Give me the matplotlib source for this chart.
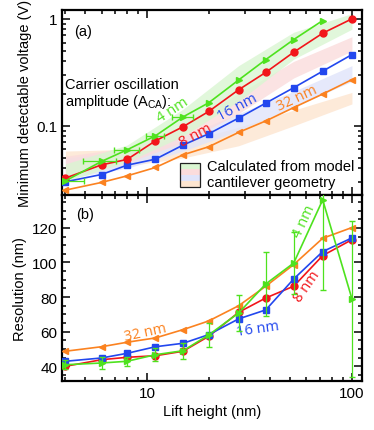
import numpy as np
import matplotlib
matplotlib.use("Agg")
import matplotlib.pyplot as plt
from matplotlib.patches import Rectangle
from matplotlib.ticker import LogLocator, NullFormatter, MultipleLocator

plt.rcParams['font.family'] = ['Liberation Sans', 'DejaVu Sans']
plt.rcParams['mathtext.fontset'] = 'custom'
plt.rcParams['mathtext.rm'] = 'Liberation Sans'

# ---------------- data ----------------
lift = [4, 6, 8, 11, 15, 20, 28, 38, 52, 72, 100]

# (a) minimum detectable voltage (V)
v_4nm = [0.0305, 0.0464, 0.0596, 0.0806, 0.121, 0.164, 0.268, 0.416, 0.640, 0.964]
v_4nm_xerr = [0.95, 1.1, 1.1, 1.1, 1.7]
v_8nm = [0.0324, 0.0431, 0.0484, 0.0723, 0.098, 0.136, 0.217, 0.316, 0.488, 0.734, 1.0]
v_16nm = [0.0299, 0.035, 0.0428, 0.0487, 0.066, 0.0841, 0.118, 0.163, 0.227, 0.324, 0.463]
v_32nm = [0.0250, 0.0295, 0.034, 0.0407, 0.0535, 0.0636, 0.0867, 0.111, 0.148, 0.198, 0.270]

# model bands (lower, upper) at band_x
band_x = [4, 8, 15, 28, 52, 100]
band_4_lo = [0.030, 0.046, 0.080, 0.170, 0.42, 0.80]
band_4_hi = [0.044, 0.066, 0.143, 0.365, 0.75, 1.12]
band_8_lo = [0.034, 0.045, 0.070, 0.130, 0.28, 0.50]
band_8_hi = [0.052, 0.062, 0.100, 0.200, 0.40, 0.68]
band_16_lo = [0.032, 0.040, 0.058, 0.090, 0.15, 0.26]
band_16_hi = [0.050, 0.058, 0.080, 0.130, 0.21, 0.365]
band_32_lo = [0.038, 0.042, 0.050, 0.065, 0.100, 0.160]
band_32_hi = [0.058, 0.060, 0.070, 0.097, 0.140, 0.205]

# (b) resolution (nm)
r_4nm = [40.9, 41.9, 42.9, 46.7, 49.0, 58.1, 70.8, 87.6, 99.7, 136.2, 79.0]
r_4nm_err = [2.5, 3.5, 2.5, 3.8, 4.5, 7.0, 10.5, 18.3, 18.0, 52.0, 45.0]
r_8nm = [40.0, 43.8, 45.2, 46.1, 48.7, 57.3, 71.2, 79.5, 86.3, 104.0, 113.2]
r_16nm = [42.9, 44.8, 47.5, 51.3, 53.3, 58.3, 67.4, 72.6, 90.5, 106.3, 114.2]
r_32nm = [48.7, 51.3, 53.9, 56.4, 61.2, 66.2, 75.0, 86.3, 98.8, 114.0, 120.2]

c4, c8, c16, c32 = '#4ee21e', '#f2151a', '#2247ee', '#fb8220'
b4, b8, b16, b32 = '#daf6d2', '#fbdcdc', '#e0e4fa', '#fde5d0'

fig = plt.figure(figsize=(3.74, 4.31), dpi=100)
axA = fig.add_axes([0.1658, 0.5452, 0.8022, 0.4293])
axB = fig.add_axes([0.1658, 0.1137, 0.8022, 0.4315])

FS = 10.5
lw = 1.2
ms = 5

# ---------- panel (a) ----------
for lo, hi, col in [(band_32_lo, band_32_hi, b32), (band_16_lo, band_16_hi, b16),
                    (band_8_lo, band_8_hi, b8), (band_4_lo, band_4_hi, b4)]:
    axA.fill_between(band_x, lo, hi, color=col, alpha=0.8, lw=0, zorder=1)

axA.plot(lift, v_32nm, color=c32, marker='<', ms=ms, lw=lw, zorder=3)
axA.plot(lift, v_16nm, color=c16, marker='s', ms=ms, lw=lw, zorder=3)
axA.plot(lift, v_8nm, color=c8, marker='o', ms=ms, lw=lw, zorder=3)
axA.plot(lift[:len(v_4nm)], v_4nm, color=c4, marker='>', ms=ms, lw=lw, zorder=4)
axA.errorbar(lift[:len(v_4nm_xerr)], v_4nm[:len(v_4nm_xerr)], xerr=v_4nm_xerr,
             fmt='none', ecolor=c4, elinewidth=0.9, capsize=2, zorder=4)

axA.set_xscale('log')
axA.set_yscale('log')
axA.set_xlim(3.85, 112)
axA.set_ylim(0.0225, 1.21)
axA.set_yticks([0.1, 1])
axA.set_yticklabels(['0.1', '1'])
axA.yaxis.set_minor_locator(LogLocator(base=10, subs=np.arange(2, 10)))
axA.yaxis.set_minor_formatter(NullFormatter())
axA.tick_params(labelbottom=False)
axA.set_ylabel('Minimum detectable voltage (V)', fontsize=FS, labelpad=3)

axA.text(0.04, 0.885, '(a)', transform=axA.transAxes, fontsize=FS, va='center')
axA.text(0.01, 0.6, 'Carrier oscillation', transform=axA.transAxes, fontsize=FS, va='center')
axA.text(0.01, 0.508, r'amplitude (A$_{\mathregular{CA}}$):', transform=axA.transAxes,
         fontsize=FS, va='center')

lab_font = dict(fontsize=FS, family=['Open Sans', 'DejaVu Sans'], ha='center', va='center')
axA.text(13.4, 0.142, '4 nm', color=c4, rotation=33, **lab_font)
axA.text(17.3, 0.083, '8 nm', color=c8, rotation=28, **lab_font)
axA.text(27.6, 0.149, '16 nm', color=c16, rotation=28, **lab_font)
axA.text(53.7, 0.182, '32 nm', color=c32, rotation=25, **lab_font)

# legend-like patch
x0, x1, y0, y1 = 0.393, 0.46, 0.043, 0.173
hstep = (y1 - y0) / 4
for i, col in enumerate([b32, b16, b8, b4]):
    axA.add_patch(Rectangle((x0, y0 + i * hstep), x1 - x0, hstep, transform=axA.transAxes,
                            facecolor=col, edgecolor='none', zorder=5))
axA.add_patch(Rectangle((x0, y0), x1 - x0, y1 - y0, transform=axA.transAxes,
                        facecolor='none', edgecolor='#222222', lw=0.9, zorder=6))
axA.text(0.483, 0.157, 'Calculated from model', transform=axA.transAxes, fontsize=FS, va='center')
axA.text(0.483, 0.07, 'cantilever geometry', transform=axA.transAxes, fontsize=FS, va='center')

# ---------- panel (b) ----------
axB.plot(lift, r_32nm, color=c32, marker='<', ms=ms, lw=lw, zorder=3)
axB.plot(lift, r_8nm, color=c8, marker='o', ms=ms, lw=lw, zorder=3)
axB.plot(lift, r_16nm, color=c16, marker='s', ms=ms, lw=lw, zorder=3)
axB.errorbar(lift, r_4nm, yerr=r_4nm_err, color=c4, marker='>', ms=ms, lw=lw,
             ecolor=c4, elinewidth=0.9, capsize=2, zorder=4)

axB.set_xscale('log')
axB.set_xlim(3.85, 112)
axB.set_ylim(31.5, 139)
axB.set_xticks([10, 100])
axB.set_xticklabels(['10', '100'])
axB.set_yticks([40, 60, 80, 100, 120])
axB.yaxis.set_minor_locator(MultipleLocator(5))
axB.set_ylabel('Resolution (nm)', fontsize=FS, labelpad=3)
axB.set_xlabel('Lift height (nm)', fontsize=FS, labelpad=3)
axB.text(0.047, 0.9, '(b)', transform=axB.transAxes, fontsize=FS, va='center')

axB.text(9.86, 59.7, '32 nm', color=c32, rotation=12, **lab_font)
axB.text(34.9, 62.0, '16 nm', color=c16, rotation=8, **lab_font)
axB.text(60.5, 86.3, '8 nm', color=c8, rotation=55, **lab_font)
axB.text(58.3, 123.9, '4 nm', color=c4, rotation=65, **lab_font)

for ax in (axA, axB):
    ax.xaxis.set_minor_locator(LogLocator(base=10, subs=np.arange(2, 10)))
    ax.xaxis.set_minor_formatter(NullFormatter())
    ax.tick_params(which='both', direction='in', top=True, right=True, labelsize=FS + 0.5, width=1.1)
    ax.tick_params(which='major', length=5.5)
    ax.tick_params(which='minor', length=3)
    for s in ax.spines.values():
        s.set_linewidth(1.6)

fig.savefig('out.png', dpi=100)
